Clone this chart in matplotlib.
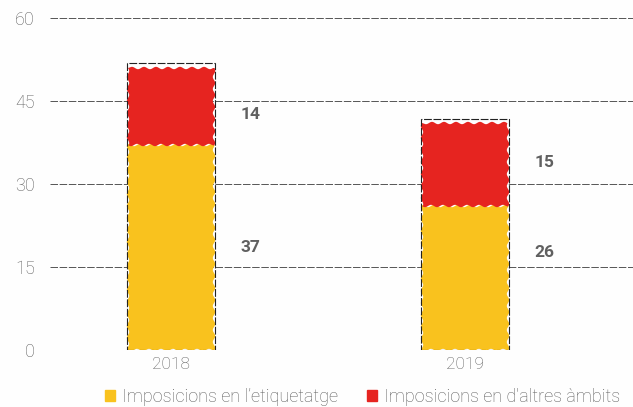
import matplotlib.pyplot as plt
from matplotlib.patches import Patch, Rectangle

plt.rcParams['font.family'] = ['Roboto', 'DejaVu Sans']

# Data
years = ['2018', '2019']
labelling = [37, 26]     # Imposicions en l'etiquetatge
other = [14, 15]         # Imposicions en d'altres àmbits
legend_labels = ["Imposicions en l\u2019etiquetatge", "Imposicions en d'altres àmbits"]
y_ticks = [0, 15, 30, 45, 60]

yellow = '#F9C21E'
red = '#E62420'
grey_text = '#5e5e5e'

fig = plt.figure(figsize=(6.33, 4.07), dpi=100)
fig.patch.set_facecolor('#FEFEFE')
ax = fig.add_axes([0.079, 0.14, 0.921, 0.816])
ax.set_facecolor('#FEFEFE')

x = range(len(years))
fill_w = 0.29
box_w = 0.30

bars_y = ax.bar(x, labelling, width=fill_w, color=yellow, zorder=2)
bars_r = ax.bar(x, other, bottom=labelling, width=fill_w, color=red, zorder=2)
# rough, felt-pen edges
for p in list(bars_y) + list(bars_r):
    p.set_sketch_params(1.2, 12, 1)

# dashed hand-drawn outline round each bar
for xi, a, b in zip(x, labelling, other):
    ax.add_patch(Rectangle((xi - box_w / 2, 0), box_w, a + b + 0.8, fill=False,
                           edgecolor='#222222', linewidth=0.8, linestyle=(0, (7, 1.5)),
                           zorder=3))

# value labels to the right of each segment (small nudges as in the original layout)
low_nudge = [0, 4.7]
high_nudge = [-1.5, 0.3]
for xi, a, b, n1, n2 in zip(x, labelling, other, low_nudge, high_nudge):
    ax.text(xi + 0.27, a / 2 + n1, str(a), ha='center', va='center', fontsize=12.5,
            fontweight='bold', color='#606060')
    ax.text(xi + 0.27, a + b / 2 + n2, str(b), ha='center', va='center', fontsize=12.5,
            fontweight='bold', color='#606060')

ax.set_ylim(0, 60)
ax.set_xlim(-0.4115, 1.571)
ax.set_yticks(y_ticks)
ax.set_xticks(list(x))
ax.set_xticklabels(years, fontweight='light')
ax.set_yticklabels([str(t) for t in y_ticks], fontweight='light')
ax.yaxis.grid(True, color='#3a3a3a', linestyle=(0, (9, 2)), linewidth=0.6, zorder=1)
ax.set_axisbelow(True)
for s in ax.spines.values():
    s.set_visible(False)
ax.tick_params(axis='both', length=0, colors=grey_text, labelsize=13)
ax.tick_params(axis='y', pad=11)
ax.tick_params(axis='x', pad=5, labelsize=12.5)

handles = [Patch(color=yellow), Patch(color=red)]
fig.legend(handles, legend_labels, loc='lower center', bbox_to_anchor=(0.573, -0.037), ncol=2,
           frameon=False, handlelength=0.55, handleheight=0.55,
           handletextpad=0.4, columnspacing=1.6, labelcolor=grey_text,
           prop={'size': 13, 'weight': 'light'})

fig.savefig('out.png', dpi=100, facecolor=fig.get_facecolor())
